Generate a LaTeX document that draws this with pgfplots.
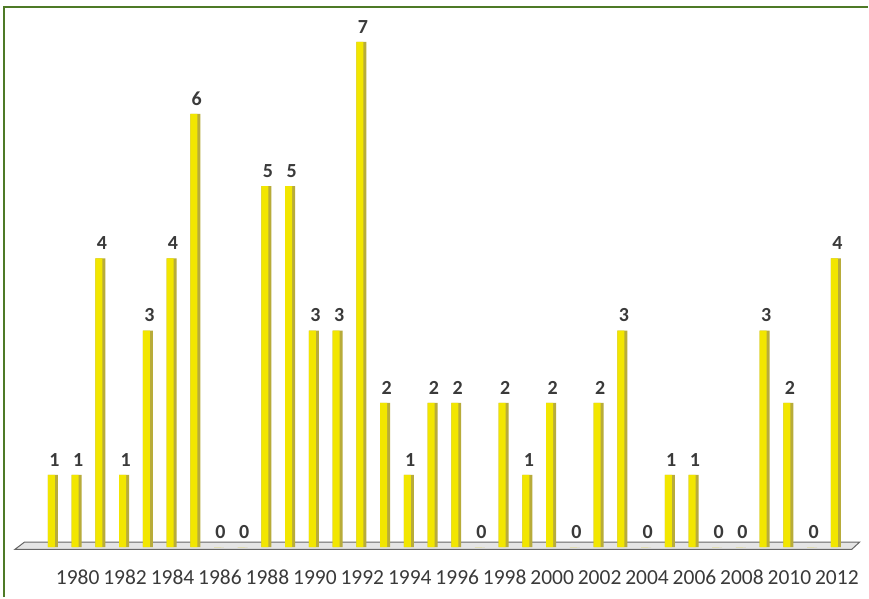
\documentclass[border=0pt]{standalone}
\usepackage{fontspec}
\setmainfont{Carlito}
\usepackage{pgfplots}
\pgfplotsset{compat=1.18}
\definecolor{baryellow}{HTML}{F2E600}
\definecolor{baredge}{HTML}{B8AC3A}
\definecolor{framegreen}{HTML}{4E7A26}
\definecolor{labelgray}{HTML}{3A3A3A}
\begin{document}
\begin{tikzpicture}[x=1pt,y=1pt]
\path[fill=white] (0,0) rectangle (869,598);
\draw[framegreen, line width=2.5pt] (4,0) -- (4,591) -- (869,591);
\begin{axis}[
  at={(12.6pt,42.8pt)}, anchor=south west,
  scale only axis, width=850.6pt, height=549.5pt,
  xmin=1977.3, xmax=2013.1, ymin=-0.1, ymax=7.5,
  clip=false,
  axis line style={draw=none},
  tick style={draw=none},
  ytick=\empty,
  xtick={1980,1982,...,2012},
  xticklabels={1980,1982,1984,1986,1988,1990,1992,1994,1996,1998,2000,2002,2004,2006,2008,2010,2012},
  xticklabel style={font=\fontsize{21.5}{21.5}\selectfont, text=labelgray, anchor=center, yshift=-23pt, xshift=1pt},
  /pgf/number format/assume math mode=true,
]
% floor
\fill[gray!20] (axis cs:1977.4,-0.03) -- (axis cs:1977.8,0.07) -- (axis cs:2013.0,0.07) -- (axis cs:2012.67,-0.03) -- cycle;
\draw[gray!80!black, line width=1pt] (axis cs:1977.4,-0.03) -- (axis cs:1977.8,0.07) -- (axis cs:2013.0,0.07) -- (axis cs:2012.67,-0.03) -- cycle;
\addplot[ybar, bar width=10pt, bar shift=0pt, fill=baredge, draw=none] coordinates {
(1979,1)(1980,1)(1981,4)(1982,1)(1983,3)(1984,4)(1985,6)(1986,0)(1987,0)(1988,5)(1989,5)(1990,3)(1991,3)(1992,7)(1993,2)(1994,1)(1995,2)(1996,2)(1997,0)(1998,2)(1999,1)(2000,2)(2001,0)(2002,2)(2003,3)(2004,0)(2005,1)(2006,1)(2007,0)(2008,0)(2009,3)(2010,2)(2011,0)(2012,4)
};
\addplot[ybar, bar width=7pt, bar shift=-1.5pt, fill=baryellow, draw=none,
  nodes near coords,
  every node near coord/.append style={font=\bfseries\fontsize{20}{20}\selectfont, text=labelgray, anchor=south, yshift=5pt, xshift=1.5pt}] coordinates {
(1979,1)(1980,1)(1981,4)(1982,1)(1983,3)(1984,4)(1985,6)(1986,0)(1987,0)(1988,5)(1989,5)(1990,3)(1991,3)(1992,7)(1993,2)(1994,1)(1995,2)(1996,2)(1997,0)(1998,2)(1999,1)(2000,2)(2001,0)(2002,2)(2003,3)(2004,0)(2005,1)(2006,1)(2007,0)(2008,0)(2009,3)(2010,2)(2011,0)(2012,4)
};
\end{axis}
\end{tikzpicture}
\end{document}
